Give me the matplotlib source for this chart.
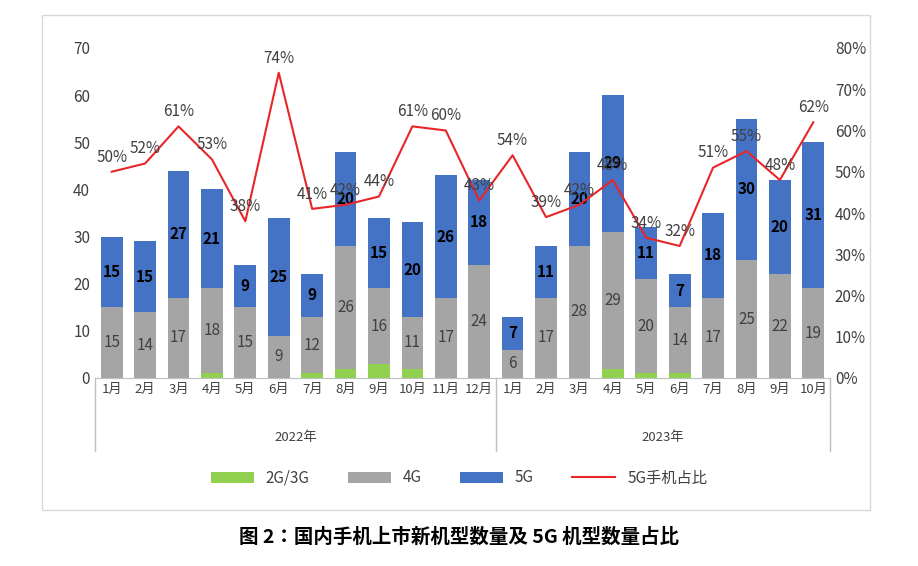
import matplotlib
matplotlib.use("Agg")
import matplotlib.pyplot as plt
from matplotlib import font_manager
from matplotlib.patches import Rectangle
from matplotlib.lines import Line2D
import numpy as np

names = {f.name for f in font_manager.fontManager.ttflist}
cjk = [n for n in ["Noto Sans CJK SC", "Noto Sans CJK JP", "Noto Sans CJK TC", "Noto Sans CJK KR"] if n in names]
if not cjk:
    cjk = [f.name for f in font_manager.fontManager.ttflist if "CJK" in f.name][:1]
plt.rcParams["font.family"] = "sans-serif"
plt.rcParams["font.sans-serif"] = cjk + ["DejaVu Sans"]

months = ["1月","2月","3月","4月","5月","6月","7月","8月","9月","10月","11月","12月",
          "1月","2月","3月","4月","5月","6月","7月","8月","9月","10月"]
years = ["2022年", "2023年"]
year_counts = [12, 10]
g23 = [0,0,0,1,0,0,1,2,3,2,0,0, 0,0,0,2,1,1,0,0,0,0]
g4 = [15,14,17,18,15,9,12,26,16,11,17,24, 6,17,28,29,20,14,17,25,22,19]
g5 = [15,15,27,21,9,25,9,20,15,20,26,18, 7,11,20,29,11,7,18,30,20,31]
share = [50,52,61,53,38,74,41,42,44,61,60,43, 54,39,42,48,34,32,51,55,48,62]

fig = plt.figure(figsize=(9.18, 5.66), dpi=100)
fig.patches.append(Rectangle((42/918, 1-510/566), 828/918, 495/566, transform=fig.transFigure,
                             fill=False, ec="#D9D9D9", lw=1))
ax = fig.add_axes([95/918, 1-378/566, 735/918, 330/566])
x = np.arange(len(months))
w = 0.65
a = np.array(g23); b = np.array(g4); c = np.array(g5)
ax.bar(x, a, w, color="#92D050", label="2G/3G")
ax.bar(x, b, w, bottom=a, color="#A5A5A5", label="4G")
ax.bar(x, c, w, bottom=a+b, color="#4472C4", label="5G")
for i in range(len(x)):
    ax.text(x[i], a[i]+b[i]/2, str(b[i]), ha="center", va="center", fontsize=11, color="#404040")
    ax.text(x[i], a[i]+b[i]+c[i]/2, str(c[i]), ha="center", va="center", fontsize=11,
            color="black", fontweight="bold")
ax.set_ylim(0, 70)
ax.set_yticks(range(0, 71, 10))
ax.set_xlim(-0.5, len(x)-0.5)
ax.set_xticks(x)
ax.set_xticklabels(months)
ax.tick_params(length=0, labelsize=11, colors="#404040")
ax.tick_params(axis="x", labelsize=9.5)
for s in ["top", "right", "left"]:
    ax.spines[s].set_visible(False)
ax.spines["bottom"].set_color("#BFBFBF")

ax2 = ax.twinx()
ax2.plot(x, share, color="#E8262A", lw=1.5, label="5G手机占比")
for i in range(len(x)):
    ax2.text(x[i], share[i]+1.5, f"{share[i]}%", ha="center", va="bottom", fontsize=11, color="#404040")
ax2.set_ylim(0, 80)
ax2.set_yticks(range(0, 81, 10))
ax2.set_yticklabels([f"{v}%" for v in range(0, 81, 10)])
ax2.tick_params(length=0, labelsize=11, colors="#404040")
for s in ["top", "right", "left", "bottom"]:
    ax2.spines[s].set_visible(False)

tr = ax.get_xaxis_transform()
bounds = [-0.5]
for n in year_counts:
    bounds.append(bounds[-1] + n)
for bx in bounds:
    ax.add_line(Line2D([bx, bx], [0, -0.22], transform=tr, color="#BFBFBF", lw=1, clip_on=False))
for k, yl in enumerate(years):
    ax.text((bounds[k]+bounds[k+1])/2, -0.18, yl, transform=tr, ha="center", va="center",
            fontsize=9.5, color="#404040")

h1, l1 = ax.get_legend_handles_labels()
h2, l2 = ax2.get_legend_handles_labels()
fig.legend(h1+h2, l1+l2, loc="center", bbox_to_anchor=(0.5, 1-478/566), ncol=4,
           frameon=False, fontsize=11, labelcolor="#404040", handlelength=2.8, columnspacing=2.5)
fig.text(0.5, 1-537/566, "图 2：国内手机上市新机型数量及 5G 机型数量占比", ha="center", va="center",
         fontsize=14, fontweight="bold")
fig.savefig("out.png", dpi=100)
